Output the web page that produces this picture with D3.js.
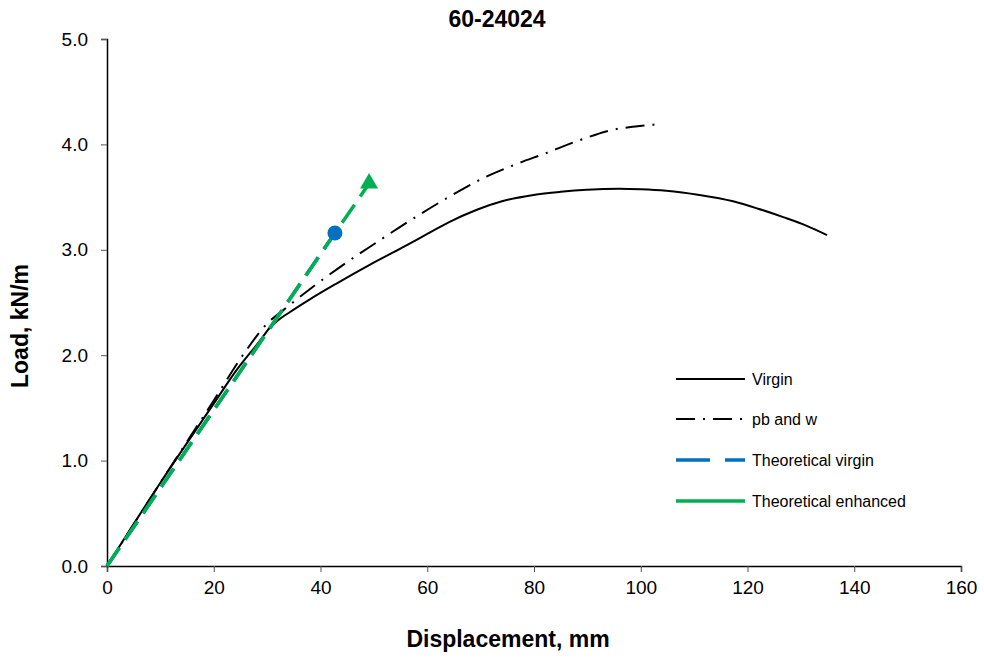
<!DOCTYPE html>
<html>
<head>
<meta charset="utf-8">
<script src="https://cdn.jsdelivr.net/npm/d3@7"></script>
<style>
  html, body { margin: 0; padding: 0; background: #fff; }
  svg { display: block; font-family: "Liberation Sans", Arial, sans-serif; }
</style>
</head>
<body>
<svg id="chart" width="984" height="660"></svg>
<script>
// Load–displacement test data, specimen 60-24024
const title = "60-24024";
const xTicks = [0, 20, 40, 60, 80, 100, 120, 140, 160];
const yTicks = [0, 1, 2, 3, 4, 5];

const virginX = [0, 10, 20, 24.3, 28.7, 30.5, 32, 34.3, 38, 43, 49.3, 55.3, 60, 64, 69.3, 74, 79.9, 85, 89.9, 96, 100, 104.8, 111, 117.3, 122, 126.7, 131, 134.9];
const virginY = [0, 0.79, 1.54, 1.86, 2.14, 2.26, 2.33, 2.41, 2.53, 2.68, 2.86, 3.02, 3.15, 3.26, 3.38, 3.46, 3.52, 3.55, 3.57, 3.58, 3.575, 3.56, 3.52, 3.46, 3.39, 3.31, 3.23, 3.14];

const pbX = [0, 10, 20, 26, 30, 33.1, 38.6, 44.6, 50.5, 55, 63, 70.5, 76, 82.4, 88, 94.9, 99, 103.1];
const pbY = [0, 0.79, 1.57, 2.04, 2.30, 2.43, 2.65, 2.87, 3.07, 3.22, 3.47, 3.68, 3.80, 3.92, 4.03, 4.14, 4.17, 4.19];

const theoVirginX = [0, 42.7];
const theoVirginY = [0, 3.16];
const theoEnhX = [0, 49.1];
const theoEnhY = [0, 3.63];

const seriesNames = ["Virgin", "pb and w", "Theoretical virgin", "Theoretical enhanced"];

const BLUE = "#0070C0";
const GREEN = "#00B050";

const svg = d3.select("#chart");
const x = d3.scaleLinear().domain([0, 160]).range([107, 961]);
const y = d3.scaleLinear().domain([0, 5]).range([566, 39]);

const zip = (xs, ys) => xs.map((v, i) => [v, ys[i]]);
const line = d3.line().x(d => x(d[0])).y(d => y(d[1])).curve(d3.curveMonotoneX);

// Axes
const xAxis = svg.append("g").attr("transform", `translate(0,${y(0)})`)
  .call(d3.axisBottom(x).tickValues(xTicks).tickSizeOuter(0).tickSize(6).tickPadding(9).tickFormat(d3.format("d")));
const yAxis = svg.append("g").attr("transform", `translate(${x(0)},0)`)
  .call(d3.axisLeft(y).tickValues(yTicks).tickSizeOuter(0).tickSize(6).tickPadding(13).tickFormat(d3.format(".1f")));
[xAxis, yAxis].forEach(g => {
  g.select(".domain").attr("stroke", "#000").attr("stroke-width", 1.5);
  g.selectAll(".tick line").attr("stroke", "#555").attr("stroke-width", 1);
  g.selectAll(".tick text").attr("fill", "#000").attr("font-size", 19)
    .attr("font-family", "'Liberation Sans', Arial, sans-serif");
});

// Measured curves
svg.append("path").datum(zip(virginX, virginY)).attr("d", line)
  .attr("fill", "none").attr("stroke", "#000").attr("stroke-width", 2);
svg.append("path").datum(zip(pbX, pbY)).attr("d", line)
  .attr("fill", "none").attr("stroke", "#000").attr("stroke-width", 2)
  .attr("stroke-dasharray", "19,8,2,8");

// Theoretical lines
const straight = d3.line().x(d => x(d[0])).y(d => y(d[1]));
svg.append("path").datum(zip(theoVirginX, theoVirginY)).attr("d", straight)
  .attr("fill", "none").attr("stroke", BLUE).attr("stroke-width", 3.5)
  .attr("stroke-dasharray", "22,10");
svg.append("path").datum(zip(theoEnhX, theoEnhY)).attr("d", straight)
  .attr("fill", "none").attr("stroke", GREEN).attr("stroke-width", 3.5)
  .attr("stroke-dasharray", "22,10");

// End markers of the theoretical lines
svg.append("circle")
  .attr("cx", x(theoVirginX[1])).attr("cy", y(theoVirginY[1])).attr("r", 7.5)
  .attr("fill", BLUE);
svg.append("path")
  .attr("transform", `translate(${x(theoEnhX[1])},${y(theoEnhY[1])})`)
  .attr("d", d3.symbol().type(d3.symbolTriangle).size(140)())
  .attr("fill", GREEN);

// Titles
svg.append("text").attr("x", 497).attr("y", 27).attr("text-anchor", "middle")
  .attr("font-size", 23).attr("font-weight", "bold").text(title);
svg.append("text").attr("x", 508).attr("y", 647).attr("text-anchor", "middle")
  .attr("font-size", 23).attr("font-weight", "bold").text("Displacement, mm");
svg.append("text").attr("transform", "translate(28,326) rotate(-90)").attr("text-anchor", "middle")
  .attr("font-size", 23).attr("font-weight", "bold").text("Load, kN/m");

// Legend
const legendStyles = [
  { stroke: "#000", width: 2, dash: null },
  { stroke: "#000", width: 2, dash: "19,8,2,8" },
  { stroke: BLUE, width: 3.5, dash: "34,15" },
  { stroke: GREEN, width: 3.5, dash: null }
];
const legendY = [379, 419, 460, 501];
const legend = svg.append("g");
seriesNames.forEach((name, i) => {
  const s = legendStyles[i];
  legend.append("line").attr("x1", 676).attr("x2", 745)
    .attr("y1", legendY[i]).attr("y2", legendY[i])
    .attr("stroke", s.stroke).attr("stroke-width", s.width)
    .attr("stroke-dasharray", s.dash);
  legend.append("text").attr("x", 752).attr("y", legendY[i] + 5.5)
    .attr("font-size", 16).text(name);
});
</script>
</body>
</html>
